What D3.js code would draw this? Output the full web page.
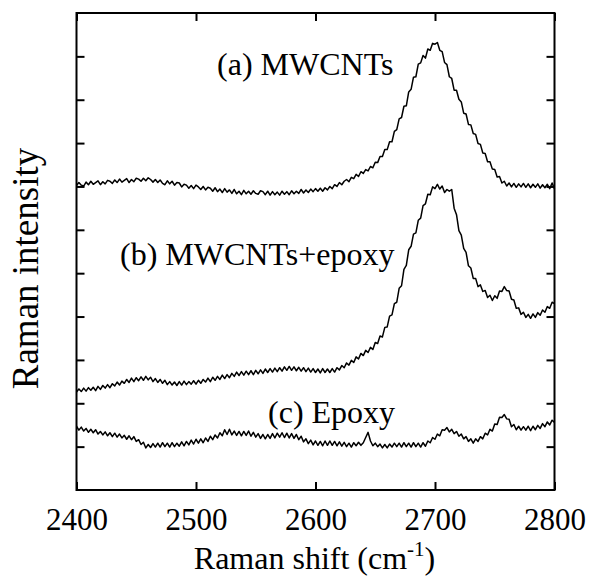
<!DOCTYPE html>
<meta charset="utf-8">
<style>
body { margin: 0; background: #fff; }
svg { font-family: "Liberation Serif", "Times New Roman", serif; }
.frame { fill: none; stroke: #000; stroke-width: 2px; }
.axis line { stroke: #000; stroke-width: 2px; }
.axis path { display: none; }
.axis text { font-size: 31px; fill: #000; font-family: "Liberation Serif", "Times New Roman", serif; }
.spec { fill: none; stroke: #000; stroke-width: 1.5px; stroke-linejoin: round; }
.lbl { font-size: 32px; fill: #000; }
</style>
<body>
<script src="https://cdn.jsdelivr.net/npm/d3@7"></script>
<script>

// wavenumber grid, 2400..2800 every 2 cm-1
var shiftStart = 2400, shiftStep = 2;

var mwcnt = [
  70.2,70.9,70.3,70.1,71.0,70.4,71.2,70.5,70.9,71.3,70.4,71.1,70.6,71.4,71.2,70.7,71.5,70.9,71.7,71.0,
  71.4,71.8,70.9,71.6,71.1,71.9,71.7,71.2,71.9,71.3,72.0,71.6,71.0,71.6,70.9,71.5,70.7,70.4,71.3,70.6,
  71.2,70.3,70.9,70.8,69.9,70.5,70.3,69.6,70.2,69.5,70.3,69.9,69.3,70.0,69.2,69.8,69.6,68.9,69.7,68.8,
  69.4,68.6,69.5,68.7,69.2,68.4,69.3,68.3,68.9,68.1,69.1,68.3,68.9,68.2,69.0,68.4,68.2,69.0,68.8,68.1,
  68.9,68.0,68.8,68.1,68.7,68.0,68.9,68.2,68.8,68.1,69.0,68.3,68.9,68.4,69.3,68.5,69.2,68.6,69.4,68.8,
  69.5,68.9,69.6,68.9,69.7,69.2,70.0,69.5,70.4,70.0,70.9,70.4,71.2,71.6,71.1,72.1,71.8,72.8,72.3,73.4,
  73.0,73.9,73.6,74.6,74.3,75.6,75.5,76.9,76.9,78.5,78.5,80.3,80.3,82.7,83.1,85.6,85.9,88.5,88.6,91.8,
  92.4,95.2,95.3,98.2,98.5,100.2,99.6,101.7,101.4,103.0,102.8,103.2,101.4,101.1,98.6,98.1,95.3,94.9,92.2,92.2,
  90.1,89.5,86.9,86.7,84.3,84.2,82.2,82.0,79.9,79.7,77.7,77.6,75.7,75.7,74.0,73.9,72.2,72.3,70.8,71.2,
  70.1,70.8,69.9,70.7,69.8,70.6,69.9,70.7,69.8,70.6,69.7,70.5,69.8,70.6,69.6,70.4,69.7,70.5,69.5,70.8,
  69.4];

var mwcntEpoxy = [
  22.6,23.3,22.7,23.5,22.8,23.6,23.0,23.7,22.9,23.9,23.2,24.1,23.5,24.3,23.6,24.5,24.0,24.9,24.2,25.1,
  24.6,25.5,24.8,25.8,25.0,25.9,25.2,26.1,25.3,26.2,25.4,26.0,25.0,25.7,24.8,25.5,24.6,25.3,24.3,25.0,
  24.2,24.9,24.1,25.0,24.2,25.1,24.3,25.0,24.4,25.2,24.4,25.3,24.6,25.5,24.9,25.8,25.0,26.0,25.3,26.2,
  25.5,26.5,25.7,26.6,25.9,26.9,26.2,27.2,26.4,27.3,26.5,27.4,26.6,27.5,26.6,27.6,26.8,27.7,26.9,27.9,
  27.1,28.0,27.2,28.1,27.3,28.2,27.4,28.4,27.6,28.5,27.6,28.4,27.5,28.3,27.4,28.2,27.3,28.1,27.2,28.0,
  27.1,27.9,27.0,28.0,27.1,27.9,27.1,28.0,27.2,28.2,27.7,28.7,28.2,29.3,28.8,29.9,29.4,30.7,30.2,31.5,
  31.0,32.2,31.7,32.9,32.4,34.0,33.8,35.5,35.3,37.5,37.6,40.1,40.4,43.0,43.3,46.5,47.1,50.9,51.8,55.4,
  56.2,59.0,59.3,62.2,62.7,65.6,66.0,68.2,68.1,69.9,69.5,70.5,69.4,70.1,68.6,69.3,68.9,69.3,65.0,63.5,
  59.8,58.8,55.7,54.8,51.7,51.2,48.8,48.8,46.9,47.3,45.8,46.0,44.4,44.9,43.7,44.8,44.2,45.9,45.8,46.9,
  46.0,45.9,44.0,43.8,41.9,42.0,40.5,41.0,39.8,40.5,39.6,40.6,39.8,40.9,40.3,41.5,41.0,42.3,41.9,43.3,
  43.0];

var epoxy = [
  14.7,13.8,14.5,13.6,14.2,13.3,14.0,13.2,13.9,12.9,13.5,12.7,13.4,12.5,13.2,12.3,13.1,12.2,12.9,12.0,
  12.6,11.7,12.5,11.6,12.3,11.2,11.6,10.5,11.0,9.7,10.5,9.8,10.7,9.9,10.8,9.9,10.9,10.0,10.8,9.9,
  10.9,10.0,10.8,10.1,11.1,10.2,11.2,10.4,11.5,10.6,11.7,10.8,11.8,10.9,12.0,11.2,12.4,11.6,12.7,12.0,
  13.2,12.5,13.9,12.8,14.0,12.7,13.6,12.6,13.5,12.5,13.5,12.6,13.6,12.4,13.3,12.2,13.0,11.9,12.8,11.8,
  12.8,11.9,13.0,12.0,13.1,12.2,13.2,12.1,13.1,12.0,13.0,11.9,12.8,11.6,12.4,11.1,11.8,10.7,11.5,10.4,
  11.3,10.3,11.2,10.2,11.3,10.3,11.3,10.3,11.2,10.2,11.1,10.1,11.0,10.0,10.8,9.9,10.9,10.2,11.0,10.3,
  10.9,12.1,13.3,11.3,10.2,10.8,10.0,10.6,9.7,10.5,9.7,10.6,9.9,10.8,10.0,10.8,9.9,10.9,10.0,10.8,
  9.9,10.9,10.0,10.8,9.9,10.9,10.1,11.3,10.9,12.1,11.7,12.9,12.5,13.9,13.8,14.4,13.4,14.0,13.0,13.5,
  12.4,12.9,11.8,12.3,11.2,11.8,10.8,11.8,11.2,12.3,11.8,13.1,12.7,14.0,13.6,15.2,15.1,16.8,16.7,17.4,
  16.4,16.3,14.6,15.1,13.9,14.7,13.8,14.6,13.8,14.7,13.7,14.7,13.9,14.9,14.2,15.3,14.6,15.7,15.0,16.1,
  15.6];

var xTicks = [2400, 2500, 2600, 2700, 2800];
var yTicks = [10, 20, 30, 40, 50, 60, 70, 80, 90, 100];

var labels = [
  {text: "(a) MWCNTs", x: 2517.6, y: 95.7},
  {text: "(b) MWCNTs+epoxy", x: 2436.4, y: 51.9},
  {text: "(c) Epoxy", x: 2560.3, y: 15.5}
];

var margin = {top: 13, right: 37.5, bottom: 87, left: 76.5},
    width = 592 - margin.left - margin.right,
    height = 577 - margin.top - margin.bottom;

var x = d3.scaleLinear().domain([2400, 2800]).range([0, width]);
var y = d3.scaleLinear().domain([0, 110]).range([height, 0]);

var svg = d3.select("body").append("svg")
    .attr("width", 592)
    .attr("height", 577)
  .append("g")
    .attr("transform", "translate(" + margin.left + "," + margin.top + ")");

var line = d3.line()
    .x(function(d, i) { return x(shiftStart + i * shiftStep); })
    .y(function(d) { return y(d); });

[mwcnt, mwcntEpoxy, epoxy].forEach(function(s) {
  svg.append("path").datum(s).attr("class", "spec").attr("d", line);
});

// ticks on every side, pointing in
svg.append("g")
    .attr("class", "axis")
    .attr("transform", "translate(0," + height + ")")
    .call(d3.axisBottom(x).tickValues(xTicks).tickSize(-8).tickPadding(18).tickFormat(d3.format("d")));

svg.append("g")
    .attr("class", "axis")
    .call(d3.axisTop(x).tickValues(xTicks).tickSize(-8).tickFormat(""));

svg.append("g")
    .attr("class", "axis")
    .call(d3.axisLeft(y).tickValues(yTicks).tickSize(-8).tickFormat(""));

svg.append("g")
    .attr("class", "axis")
    .attr("transform", "translate(" + width + ",0)")
    .call(d3.axisRight(y).tickValues(yTicks).tickSize(-8).tickFormat(""));

svg.append("rect")
    .attr("class", "frame")
    .attr("width", width)
    .attr("height", height);

svg.selectAll(".lbl")
    .data(labels)
  .enter().append("text")
    .attr("class", "lbl")
    .attr("x", function(d) { return x(d.x); })
    .attr("y", function(d) { return y(d.y); })
    .text(function(d) { return d.text; });

var xt = svg.append("text")
    .attr("class", "lbl")
    .attr("x", width / 2 - 1)
    .attr("y", height + 79)
    .attr("text-anchor", "middle");
xt.append("tspan").text("Raman shift (cm");
xt.append("tspan").attr("dy", -13).style("font-size", "21px").text("-1");
xt.append("tspan").attr("dy", 13).text(")");

svg.append("text")
    .attr("class", "lbl")
    .attr("transform", "translate(" + (38 - margin.left) + "," + (268.5 - margin.top) + ") rotate(-90)")
    .attr("text-anchor", "middle")
    .style("font-size", "37px")
    .text("Raman intensity");

</script>
